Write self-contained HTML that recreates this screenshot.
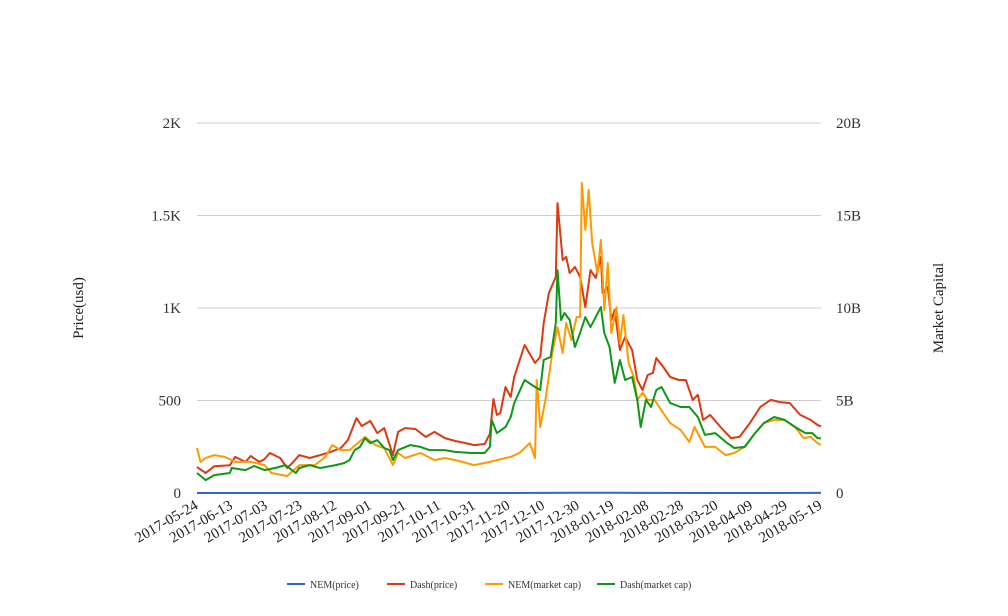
<!DOCTYPE html>
<html><head><meta charset="utf-8">
<style>
html,body{margin:0;padding:0;background:#fff;}
svg{display:block;font-family:"Liberation Serif","DejaVu Serif",serif;}
</style></head>
<body>
<svg id="chart" width="1008" height="616" viewBox="0 0 1008 616" xmlns="http://www.w3.org/2000/svg">
<g id="grid"></g>
<g id="ticks"></g>
<g id="series"></g>
<text transform="translate(83,308) rotate(-90)" text-anchor="middle" font-size="15" fill="#222">Price(usd)</text>
<text transform="translate(943,308) rotate(-90)" text-anchor="middle" font-size="15" fill="#222">Market Capital</text>
<g id="legend"></g>
</svg>
<script>
const startDate = "2017-05-24";
const xTickDays = [0,20,40,60,80,100,120,140,160,180,200,220,240,260,280,300,320,340,360];
const leftTicks = [0,500,1000,1500,2000];
const leftTickLabels = ["0","500","1K","1.5K","2K"];
const rightTickLabels = ["0","5B","10B","15B","20B"];

const nemPriceDays = [0,60,120,180,220,240,300,360];
const nemPrice = [0.18,0.2,0.25,0.2,1.2,1.0,0.25,0.3];

const dashPriceDays = [0,5,10,19,22,28,31,36,39,42,48,52,55,59,65,71,77,83,87,92,95,100,104,108,113,116,120,126,132,137,143,149,155,160,166,169,171,173,175,178,181,183,189,195,198,200,203,207,208,211,213,215,218,221,224,227,230,233,234,237,239,241,244,247,251,254,257,260,263,265,269,273,278,282,286,289,292,296,302,308,313,319,325,331,336,342,348,354,358,360];
const dashPrice = [140,108,145,150,195,168,200,168,184,216,189,135,162,205,189,205,222,243,286,405,362,389,324,351,205,330,351,346,303,330,297,281,270,259,265,320,508,422,432,573,519,627,800,703,735,919,1081,1168,1567,1259,1276,1189,1222,1168,1005,1205,1162,1276,1081,1113,935,989,773,843,773,611,557,638,649,730,681,627,611,611,503,530,395,422,357,297,303,378,465,503,492,486,422,395,368,360];

const nemCapDays = [0,2,5,10,16,22,31,39,43,52,59,68,74,78,83,88,97,103,108,113,116,120,129,137,143,149,160,169,178,181,186,192,195,196,198,201,205,208,211,213,216,219,221,222,224,226,228,231,233,235,237,239,242,244,246,249,252,254,257,260,264,269,273,279,284,287,293,299,305,310,316,322,327,333,339,345,350,354,358,360];
const nemCap = [2.43,1.68,1.89,2.05,1.95,1.68,1.68,1.51,1.08,0.92,1.51,1.51,1.95,2.59,2.32,2.32,3.03,2.59,2.43,1.51,2.16,1.89,2.16,1.78,1.89,1.78,1.51,1.68,1.89,1.95,2.16,2.7,1.89,6.11,3.57,5.03,7.57,8.97,7.57,9.19,8.27,9.51,9.51,16.76,14.22,16.38,13.51,11.89,13.68,9.89,12.43,8.65,10.05,8.11,9.62,7.03,6.27,5.03,5.41,5.03,5.03,4.32,3.78,3.41,2.76,3.57,2.49,2.49,2.05,2.16,2.49,3.24,3.78,3.95,3.95,3.57,2.97,3.03,2.7,2.6];

const dashCapDays = [0,5,10,19,20,28,33,39,45,51,57,59,65,71,80,85,88,91,94,97,100,104,108,111,113,116,123,129,134,143,149,158,166,169,170,173,178,181,183,189,195,198,200,204,207,208,210,212,215,218,221,224,227,230,233,235,238,241,244,247,251,254,256,259,262,265,268,273,279,284,289,293,299,305,310,316,322,327,333,339,345,351,355,358,360];
const dashCap = [1.08,0.7,0.97,1.08,1.35,1.24,1.46,1.24,1.35,1.51,1.08,1.35,1.51,1.35,1.51,1.62,1.78,2.32,2.49,2.97,2.7,2.86,2.43,2.32,1.78,2.32,2.59,2.49,2.32,2.32,2.22,2.16,2.16,2.49,3.95,3.24,3.57,4.11,4.86,6.11,5.73,5.57,7.19,7.35,9.19,12.05,9.35,9.73,9.35,7.89,8.65,9.51,8.97,9.51,10.05,8.65,7.89,5.95,7.19,6.11,6.27,5.03,3.57,5.03,4.65,5.57,5.73,4.86,4.65,4.65,4.11,3.14,3.24,2.76,2.43,2.49,3.24,3.78,4.11,3.95,3.57,3.24,3.24,2.97,2.95];

const X0=197,X1=821,Y0=493,Y1=123,DMAX=360;
const NS="http://www.w3.org/2000/svg";
function xs(d){return X0+(d/DMAX)*(X1-X0);}
function yl(v){return Y0-(v/2000)*(Y0-Y1);}
function yr(v){return Y0-(v/20)*(Y0-Y1);}
function mk(tag,attrs,parent){const e=document.createElementNS(NS,tag);for(const k in attrs)e.setAttribute(k,attrs[k]);parent.appendChild(e);return e;}
function fmtDate(d){const t=new Date(Date.parse(startDate+"T00:00:00Z")+d*86400000);return t.toISOString().slice(0,10);}

const grid=document.getElementById('grid'), ticks=document.getElementById('ticks');
leftTicks.forEach((v,i)=>{
  const y=yl(v);
  if(i>0){const g=mk('line',{x1:X0,x2:X1,y1:y,y2:y,stroke:'#cccccc','stroke-width':1},grid);
  
  }
  const t=mk('text',{x:181,y:y+5,'text-anchor':'end','font-size':15,fill:'#333'},ticks);
  
  
  t.textContent=leftTickLabels[i];
  const r=mk('text',{x:836,y:y+5,'text-anchor':'start','font-size':15,fill:'#333'},ticks);
  
  
  r.textContent=rightTickLabels[i];
});
xTickDays.forEach(d=>{
  const x=xs(d);
  const t=mk('text',{transform:`translate(${x+2},${508}) rotate(-30)`,'text-anchor':'end','font-size':15,fill:'#222'},ticks);
  
  
  t.textContent=fmtDate(d);
});

const ser=document.getElementById('series');
function line(days,vals,yf,color,name){
  const pts=days.map((d,i)=>xs(d).toFixed(1)+','+yf(vals[i]).toFixed(1)).join(' ');
  const p=mk('polyline',{points:pts,fill:'none',stroke:color,'stroke-width':2,'stroke-linejoin':'round'},ser);
  
  
}
line(dashPriceDays,dashPrice,yl,'#dc3912','dash-price-line');
line(nemCapDays,nemCap,yr,'#ff9900','nem-market-cap-line');
line(dashCapDays,dashCap,yr,'#109618','dash-market-cap-line');
line(nemPriceDays,nemPrice,yl,'#3366cc','nem-price-line');

const legend=document.getElementById('legend');
const legendItems=[["NEM(price)","#3366cc",287,"legend-nem-price"],["Dash(price)","#dc3912",387,"legend-dash-price"],["NEM(market cap)","#ff9900",485,"legend-nem-market-cap"],["Dash(market cap)","#109618",597,"legend-dash-market-cap"]];
legendItems.forEach(it=>{
  const g=mk('g',{},legend);
  
  
  mk('line',{x1:it[2],x2:it[2]+18,y1:584,y2:584,stroke:it[1],'stroke-width':2},g);
  const t=mk('text',{x:it[2]+23,y:588,'font-size':10,fill:'#333'},g);
  t.textContent=it[0];
});
</script>
</body></html>
